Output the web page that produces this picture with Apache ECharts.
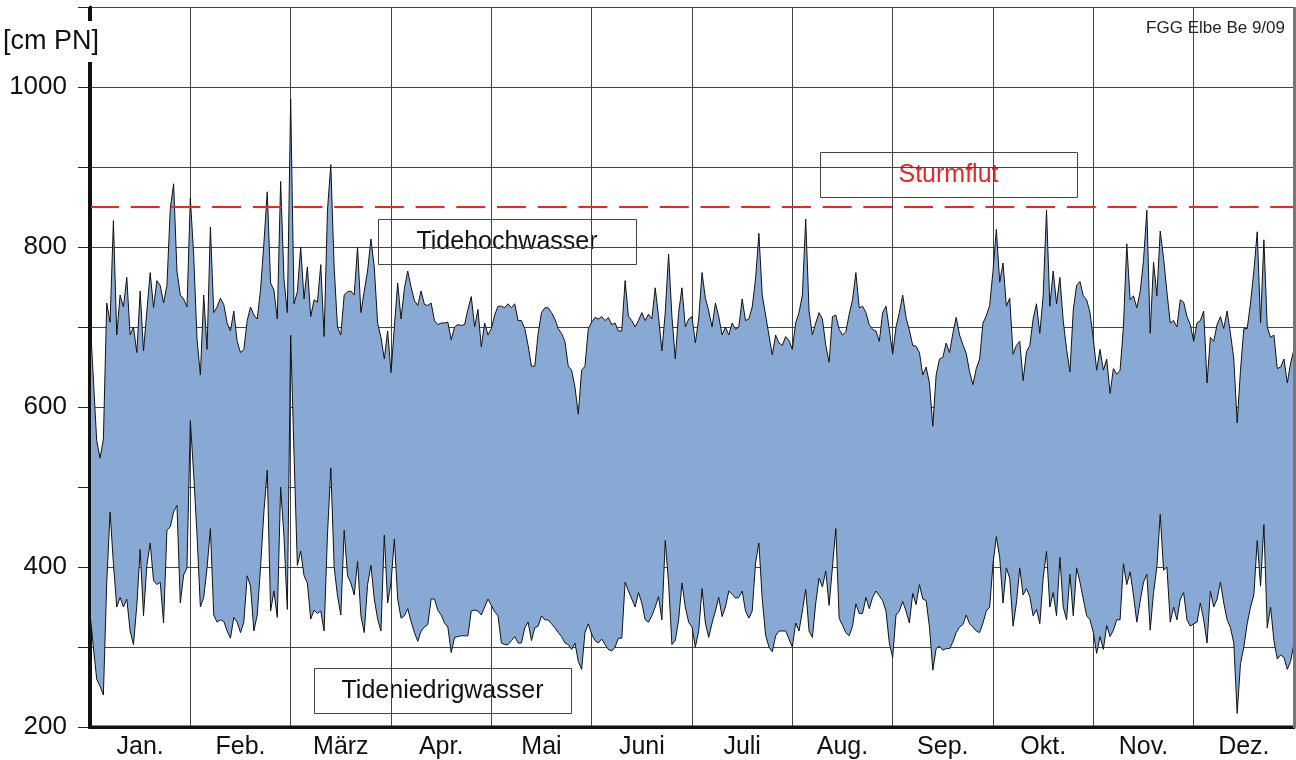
<!DOCTYPE html>
<html><head><meta charset="utf-8">
<script src="https://cdn.jsdelivr.net/npm/echarts@6/dist/echarts.min.js"></script>
<style>html,body{margin:0;padding:0;background:#fff}#c{width:1296px;height:760px}</style>
</head><body><div id="c"></div>
<script>
const months = ['Jan.','Feb.','März','Apr.','Mai','Juni','Juli','Aug.','Sep.','Okt.','Nov.','Dez.'];
const yTickLabels = [200, 400, 600, 800, 1000];
const stormLevel = 850;

// Tidehochwasser [cm PN], ~daily readings per month
const thwJan = [712,635,558,536,560,730,706,833,690,740,725,762,690,700,668,745,670,720,768,724,758,752,730,752,848,879,770,740,735,725];
const thwFeb = [861,790,685,640,740,672,825,718,725,736,728,705,695,720,682,668,672,708,725,715,710,747,805,869,755,746,710,882,760,718];
const thwMar = [985,729,744,800,735,775,713,734,731,778,688,846,903,775,700,690,740,744,745,740,800,718,745,770,810,775,705,687,660,695];
const thwApr = [643,700,755,710,748,770,750,733,727,745,728,727,730,708,703,705,705,706,684,700,703,702,703,722,738,700,722,675,705,690];
const thwMay = [698,715,726,726,724,729,724,729,708,708,698,677,651,651,692,718,724,724,718,710,698,692,682,651,646,625,591,646,651,698];
const thwJun = [706,712,710,713,708,712,703,705,695,695,758,713,708,700,708,718,708,716,710,749,713,670,718,791,713,660,718,749,700,710];
const thwJul = [713,680,710,768,736,720,700,730,713,690,700,690,705,697,700,735,708,710,725,760,817,740,715,690,665,690,680,677,688,683];
const thwAug = [672,705,718,740,835,720,690,705,718,710,677,656,713,715,697,690,694,716,734,768,724,726,718,703,697,695,682,718,726,697];
const thwSep = [666,700,718,740,712,696,677,676,668,640,650,630,576,640,660,662,680,668,692,712,690,678,667,644,628,648,660,705,714,727];
const thwOct = [770,822,756,780,726,736,666,677,682,633,669,677,710,729,692,739,846,726,770,729,762,708,672,644,721,752,757,739,734,718];
const thwNov = [685,646,672,646,660,617,648,641,646,700,804,734,739,724,744,783,846,692,781,739,820,786,744,705,708,700,734,731,713,703];
const thwDec = [682,705,708,720,630,687,682,703,713,698,720,692,660,580,646,698,698,730,770,819,705,809,700,687,690,648,650,660,630,655,672];

// Tideniedrigwasser [cm PN]
const tnwJan = [342,300,260,251,240,380,469,404,350,362,350,360,320,303,352,422,339,402,430,383,378,381,330,446,450,469,477,355,390,399];
const tnwFeb = [583,516,440,350,362,399,448,340,331,334,332,320,311,337,331,318,331,389,376,320,340,400,469,521,345,370,337,500,438,347];
const tnwMar = [690,542,402,420,389,380,335,346,342,345,320,440,524,400,364,340,446,389,380,365,407,339,318,378,402,360,335,320,440,355];
const tnwApr = [380,435,360,336,339,348,332,318,307,320,325,328,360,360,346,340,330,325,293,312,313,314,314,314,345,346,345,340,350,360];
const tnwMay = [352,344,339,305,303,303,308,313,305,305,324,331,308,324,326,339,334,334,329,324,318,313,305,303,297,305,282,272,318,329];
const tnwJun = [316,308,305,310,303,297,295,300,311,311,381,370,360,350,368,355,334,331,339,350,363,334,433,380,303,308,334,380,350,331];
const tnwJul = [325,300,320,373,330,312,330,345,362,338,350,370,366,361,362,370,345,336,345,405,430,360,315,300,294,314,320,320,320,310];
const tnwAug = [300,330,320,345,372,320,312,355,386,375,395,352,400,448,336,327,318,314,326,354,342,342,362,348,362,370,364,358,345,305];
const tnwSep = [287,340,345,357,345,330,367,353,378,360,358,325,271,298,301,296,298,298,306,318,325,328,340,329,325,320,318,330,345,350];
const tnwOct = [404,438,412,355,399,386,326,355,399,365,373,363,339,347,329,386,420,350,368,339,412,350,334,391,339,399,381,360,339,334];
const tnwNov = [318,292,313,297,327,313,321,334,334,404,378,394,365,331,357,381,391,321,368,400,466,396,400,331,350,334,360,368,334,326];
const tnwDec = [329,331,355,334,305,370,350,360,381,355,334,324,305,217,279,300,329,350,365,433,376,453,324,350,308,285,290,287,272,282,305];

const thw = [].concat(thwJan,thwFeb,thwMar,thwApr,thwMay,thwJun,thwJul,thwAug,thwSep,thwOct,thwNov,thwDec);
const tnw = [].concat(tnwJan,tnwFeb,tnwMar,tnwApr,tnwMay,tnwJun,tnwJul,tnwAug,tnwSep,tnwOct,tnwNov,tnwDec);
const steps = thw.map((_, i) => i);
const range = thw.map((v, i) => v - tnw[i]);

const FONT = '"Liberation Sans", Arial, Helvetica, sans-serif';
const chart = echarts.init(document.getElementById('c'), null, {renderer: 'canvas'});

function box(x, y, w, h, text, color) {
  return {
    type: 'group', z: 100,
    children: [
      {type: 'rect', shape: {x: x + 0.5, y: y + 0.5, width: w, height: h},
       style: {fill: '#fff', stroke: '#444', lineWidth: 1}},
      {type: 'text', style: {text: text, x: x + w / 2, y: y + h / 2 + 1, align: 'center', verticalAlign: 'middle',
        fontSize: 25, fontFamily: FONT, fill: color}}
    ]
  };
}

chart.setOption({
  animation: false,
  grid: {left: 90, right: 2, top: 7, bottom: 33, containLabel: false},
  xAxis: [
    {type: 'category', data: months, boundaryGap: true, position: 'bottom',
     axisLine: {show: true, lineStyle: {color: '#111', width: 3}},
     axisTick: {show: false},
     axisLabel: {color: '#111', fontSize: 25, fontFamily: FONT, margin: 8, interval: 0},
     splitLine: {show: true, interval: 0, lineStyle: {color: '#444', width: 1}}},
    {type: 'category', data: steps, boundaryGap: false, show: false}
  ],
  yAxis: {
    type: 'value', min: 200, max: 1100, interval: 100,
    axisLine: {show: true, lineStyle: {color: '#111', width: 3}},
    axisTick: {show: true, inside: false, length: 12, lineStyle: {color: '#222', width: 1}},
    axisLabel: {color: '#111', fontSize: 26, fontFamily: FONT, margin: 23,
      formatter: v => yTickLabels.includes(v) ? String(v) : ''},
    splitLine: {show: true, lineStyle: {color: '#444', width: 1}}
  },
  series: [
    {name: 'Tideniedrigwasser', type: 'line', xAxisIndex: 1, data: tnw, stack: 'tide',
     symbol: 'none', sampling: null, lineStyle: {color: '#111', width: 1}, z: 4},
    {name: 'Spanne', type: 'line', xAxisIndex: 1, data: range, stack: 'tide',
     symbol: 'none', lineStyle: {width: 0, opacity: 0},
     areaStyle: {color: '#87a9d3', opacity: 1}, z: 2},
    {name: 'Tidehochwasser', type: 'line', xAxisIndex: 1, data: thw,
     symbol: 'none', lineStyle: {color: '#111', width: 1}, z: 4,
     markLine: {silent: true, symbol: 'none', label: {show: false},
       lineStyle: {color: '#e8262b', width: 2, type: [29, 11.7]},
       data: [{yAxis: stormLevel}]}}
  ],
  graphic: [
    {type: 'line', z: 90, shape: {x1: 89.5, y1: 7, x2: 89.5, y2: 728.5}, style: {stroke: '#111', lineWidth: 3}},
    {type: 'line', z: 90, shape: {x1: 88, y1: 727, x2: 1294, y2: 727}, style: {stroke: '#111', lineWidth: 3}},
    {type: 'line', z: 90, shape: {x1: 1294.5, y1: 7, x2: 1294.5, y2: 728}, style: {stroke: '#777', lineWidth: 3}},
    {type: 'rect', z: 95, shape: {x: 0, y: 21, width: 110, height: 41}, style: {fill: '#fff'}},
    {type: 'text', z: 96, style: {text: '[cm PN]', x: 3, y: 42, verticalAlign: 'middle',
      fontSize: 27, fontFamily: FONT, fill: '#111'}},
    {type: 'text', z: 96, style: {text: 'FGG Elbe Be 9/09', x: 1285, y: 28, align: 'right', verticalAlign: 'middle',
      fontSize: 17, fontFamily: FONT, fill: '#222'}},
    box(378, 219, 258, 45, 'Tidehochwasser', '#111'),
    box(314, 668, 257, 45, 'Tideniedrigwasser', '#111'),
    box(820, 152, 257, 45, 'Sturmflut', '#e8262b')
  ]
});
</script></body></html>
